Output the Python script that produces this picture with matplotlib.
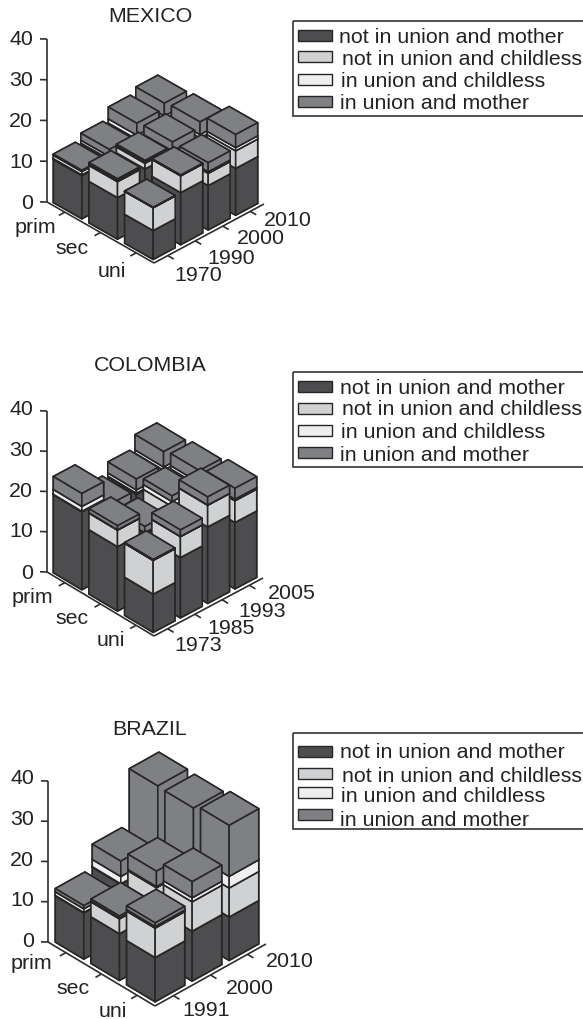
import numpy as np
import matplotlib
matplotlib.use("Agg")
import matplotlib.pyplot as plt
from matplotlib.patches import Rectangle
from matplotlib.transforms import Affine2D
from mpl_toolkits.mplot3d import proj3d

plt.rcParams['font.family'] = ['Liberation Sans', 'DejaVu Sans']

W, H = 583, 1020
EDU = ["prim", "sec", "uni"]
SERIES = ["not in union and mother", "not in union and childless",
          "in union and childless", "in union and mother"]
COLORS = ["#4d4d4f", "#d0d1d3", "#eeeef0", "#7f8083"]

MEX_YEARS = ["1970", "1990", "2000", "2010"]
# rows: prim, sec, uni; columns: years
MEX_DARK = [[10.6, 10.7, 12.0, 13.2], [10.2, 13.6, 11.0, 11.0], [7.1, 12.8, 10.9, 11.5]]
MEX_LIGHT = [[0.2, 0.3, 0.3, 0.5], [3.9, 1.4, 3.0, 3.0], [5.6, 4.1, 3.0, 4.3]]
MEX_WHITE = [[0.8, 0.7, 1.0, 0.7], [0.3, 0.3, 0.4, 0.8], [0.05, 0.1, 0.4, 0.8]]
MEX_MID = [[0.3, 1.7, 2.9, 3.1], [0.4, 0.4, 2.2, 3.1], [0.05, 0.1, 2.2, 3.2]]

COL_YEARS = ["1973", "1985", "1993", "2005"]
COL_DARK = [[19.4, 13.0, 16.5, 16.9], [16.0, 13.0, 15.0, 15.0], [9.5, 15.0, 19.0, 16.5]]
COL_LIGHT = [[0.1, 2.0, 0.3, 2.0], [4.1, 2.5, 3.8, 5.3], [8.4, 5.2, 5.4, 5.4]]
COL_WHITE = [[1.2, 0.5, 0.8, 0.8], [0.1, 0.4, 1.2, 0.8], [0.05, 0.05, 0.05, 0.4]]
COL_MID = [[3.2, 2.0, 2.7, 3.8], [1.0, 1.5, 1.4, 3.0], [0.15, 1.6, 2.0, 2.7]]

BRA_YEARS = ["1991", "2000", "2010"]
BRA_DARK = [[11.5, 13.5, 11.0], [11.6, 13.9, 11.0], [11.0, 12.4, 10.8]]
BRA_LIGHT = [[0.1, 0.1, 3.0], [3.7, 4.0, 6.0], [7.3, 7.3, 7.2]]
BRA_WHITE = [[0.9, 1.8, 2.0], [0.2, 0.3, 2.2], [0.4, 1.0, 2.9]]
BRA_MID = [[0.8, 3.8, 16.8], [0.5, 3.8, 13.4], [0.9, 4.0, 12.7]]

PANELS = [
    dict(title="MEXICO", title_xy=(150, 16.5), years=MEX_YEARS,
         stacks=[MEX_DARK, MEX_LIGHT, MEX_WHITE, MEX_MID],
         left=(47, 203), bottom=(154, 264), right=(264, 205), top=40,
         edu_xy=[(35, 228), (72, 249), (112, 272)],
         year_xy=[(288, 221), (261, 239), (231, 259), (198, 276)][::-1],
         zlab_y=[204, 163, 122, 81, 40], zlab_x=33,
         box=(22, 117), swatch_y=[36, 57.5, 80, 102.5], text_y=[38, 59.5, 81.5, 103.5],
         text_x=[339, 342, 341, 340]),
    dict(title="COLOMBIA", title_xy=(150, 365.5), years=COL_YEARS,
         stacks=[COL_DARK, COL_LIGHT, COL_WHITE, COL_MID],
         left=(47, 573), bottom=(154, 637), right=(263, 579), top=412,
         edu_xy=[(32, 598), (72, 619), (111, 641)],
         year_xy=[(198, 646), (231, 629), (262, 612), (292, 594)],
         zlab_y=[574, 532, 492, 451, 410], zlab_x=33,
         box=(373, 468), swatch_y=[387.5, 409, 431.5, 453.5], text_y=[388.5, 409.5, 432.5, 455.5],
         text_x=[340, 342, 341, 340]),
    dict(title="BRAZIL", title_xy=(150, 729.5), years=BRA_YEARS,
         stacks=[BRA_DARK, BRA_LIGHT, BRA_WHITE, BRA_MID],
         left=(48, 943), bottom=(155, 1007), right=(266, 945), top=782,
         edu_xy=[(31, 964), (73, 989), (113, 1012)],
         year_xy=[(206, 1011), (250, 989), (290, 962)],
         zlab_y=[942, 901, 861, 820, 779], zlab_x=34,
         box=(734, 830), swatch_y=[752.5, 774, 793, 815.5], text_y=[752.5, 776.5, 796.5, 820.5],
         text_x=[340, 342, 341, 340]),
]

FS = 15.4
EDGE = "#262626"
fig = plt.figure(figsize=(W / 100, H / 100), dpi=100, facecolor="white")
T = Affine2D().scale(1, -1).translate(0, H)   # pixel coordinates, origin top-left


def project(ax, x, y, z):
    px, py, _ = proj3d.proj_transform(x, y, z, ax.get_proj())
    return ax.transData.transform((px, py))


def make_axes(p):
    lx, ly = p["left"]; bx, by = p["bottom"]; rx, ry = p["right"]
    dx1, dy1 = bx - lx, by - ly
    dx2, dy2 = rx - bx, by - ry
    r1, r2 = dy1 / dx1, dy2 / dx2
    se = np.sqrt(r1 * r2)
    e = np.arcsin(se)
    ratio = np.sqrt(r1 / r2)            # cos a / sin a
    a = np.arctan(1 / ratio)
    Lx = dx1 / np.sin(a)
    Ly = dx2 / np.cos(a)
    Lz = (ly - p["top"]) / np.cos(e)
    n = len(p["years"])
    S = 420
    ax = fig.add_axes([0, 0, S / W, S / H], projection="3d", proj_type="ortho",
                      computed_zorder=False)
    ax.patch.set_visible(False)
    ax.set_axis_off()
    ax.set_xlim(0.5, 3.5, view_margin=0)
    ax.set_ylim(0.5, n + 0.5, view_margin=0)
    ax.set_zlim(0, 40, view_margin=0)
    ax.view_init(elev=np.degrees(e), azim=-np.degrees(a))
    ax.set_box_aspect((Lx, Ly, Lz), zoom=1)
    h1 = project(ax, 0.5, 0.5, 0)
    h2 = project(ax, 0.5, 0.5, 40)
    ax.set_box_aspect((Lx, Ly, Lz), zoom=(ly - p["top"]) / (h2[1] - h1[1]))
    o = project(ax, 0.5, 0.5, 0)
    ax.set_position([(lx - o[0]) / W, (H - ly - o[1]) / H, S / W, S / H])
    return ax, n, (dx1 / 3, dx2 / n)


def draw_bars(ax, p, n):
    stacks = np.array(p["stacks"], dtype=float)
    zo = 3
    for j in range(n - 1, -1, -1):
        for i in range(3):
            base = 0.0
            for s in range(4):
                h = stacks[s, i, j]
                ax.bar3d(i + 1 - 0.4, j + 1 - 0.4, base, 0.8, 0.8, h,
                         color=COLORS[s], shade=False, edgecolor=EDGE,
                         linewidth=1.15, zorder=zo)
                base += h
                zo += 1


def draw_axes(ax, p, n, px_unit):
    ux, uy = px_unit
    kw = dict(color="#2e2e2e", lw=1.2, zorder=2, solid_capstyle="butt")
    ax.plot([0.5, 0.5], [0.5, 0.5], [0, 40], **kw)
    ax.plot([0.5, 3.5], [0.5, 0.5], [0, 0], **kw)
    ax.plot([3.5, 3.5], [0.5, n + 0.5], [0, 0], **kw)
    for z in range(0, 41, 10):
        ax.plot([0.5, 0.5 - 3.5 / ux], [0.5, 0.5 - 3.5 / uy], [z, z], **kw)
    for i in range(1, 4):
        ax.plot([i, i], [0.5, 0.5 - 6 / uy], [0, 0], **kw)
    for j in range(1, n + 1):
        ax.plot([3.5, 3.5 + 6 / ux], [j, j], [0, 0], **kw)


for p in PANELS:
    ax, n, unit = make_axes(p)
    draw_bars(ax, p, n)
    draw_axes(ax, p, n, unit)
    fig.text(*p["title_xy"], p["title"], transform=T, fontsize=FS, ha="center", va="center", color="#222222")
    for v, y in zip(range(0, 41, 10), p["zlab_y"]):
        fig.text(p["zlab_x"], y, str(v), transform=T, fontsize=FS, ha="right", va="center", color="#222222")
    for lab, xy in zip(EDU, p["edu_xy"]):
        fig.text(*xy, lab, transform=T, fontsize=FS, ha="center", va="center", color="#222222")
    for lab, xy in zip(p["years"], p["year_xy"]):
        fig.text(*xy, lab, transform=T, fontsize=FS, ha="center", va="center", color="#222222")
    t, b = p["box"]
    fig.add_artist(Rectangle((293, t), 300, b - t, transform=T, fill=False, ec="#333333", lw=1.2))
    for s in range(4):
        fig.add_artist(Rectangle((298, p["swatch_y"][s] - 5.5), 34, 11, transform=T,
                                 fc=COLORS[s], ec=EDGE, lw=1.0))
        fig.text(p["text_x"][s], p["text_y"][s], SERIES[s], transform=T, fontsize=FS,
                 ha="left", va="center", color="#222222")

fig.savefig("out.png", dpi=100, facecolor="white")
